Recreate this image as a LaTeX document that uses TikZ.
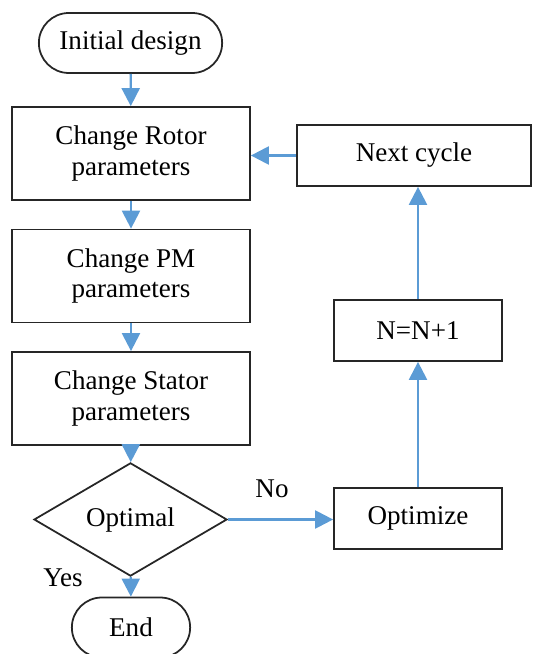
\documentclass[tikz,border=0pt]{standalone}
\usepackage{fontspec}
\setmainfont{Liberation Serif}
\usepackage{tikz}
\usetikzlibrary{arrows.meta, shapes.geometric, shapes.misc}

\definecolor{flowblue}{RGB}{91,155,213}

\begin{document}
\begin{tikzpicture}[
  font=\fontsize{15.4}{17.6}\selectfont,
  box/.style={draw=black!85, line width=1pt, rectangle, align=center, minimum width=4.76cm, minimum height=1.86cm},
  smallbox/.style={draw=black!85, line width=1pt, rectangle, minimum height=1.22cm},
  term/.style={draw=black!85, line width=1pt, rounded rectangle, minimum height=1.2cm},
  decision/.style={draw=black!85, line width=1pt, diamond, minimum width=3.86cm, minimum height=1.86cm, inner sep=0pt},
  flow/.style={draw=flowblue, line width=1.3pt, -{Triangle[length=0.36cm,width=0.36cm]}}
]

\useasboundingbox (0,0) rectangle (10.66,-13.08);

% nodes
\node[term, minimum width=3.9cm] (init) at (2.61, -0.86) {Initial design};
\node[box] (rotor) at (2.62, -3.07) {Change Rotor\\parameters};
\node[box] (pm) at (2.62, -5.52) {Change PM\\parameters};
\node[box] (stator) at (2.62, -7.97) {Change Stator\\parameters};
\node[decision] (optimal) at (2.61, -10.39) {Optimal};
\node[term, minimum width=2.6cm] (end) at (2.62, -12.55) {End};

\node[smallbox, minimum width=3.36cm] (optimize) at (8.36, -10.37) {Optimize};
\node[smallbox, minimum width=3.36cm] (count) at (8.36, -6.61) {N=N+1};
\node[smallbox, minimum width=4.68cm] (next) at (8.28, -3.11) {Next cycle};

\node (no) at (5.44, -9.78) {No};
\node (yes) at (1.26, -11.56) {Yes};


% arrows
\draw [flow] (init) -- (rotor);
\draw [flow] (rotor) -- (pm);
\draw [flow] (pm) -- (stator);
\draw [flow] (stator) -- (optimal);
\draw [flow] (optimal) -- (end);

\draw [flow] (optimal.east) -- (optimize.west |- optimal.east);
\draw [flow] (optimize) -- (count);
\draw [flow] (count) -- (count |- next.south);
\draw [flow] (next.west) -- (rotor.east |- next.west);


\end{tikzpicture}
\end{document}
